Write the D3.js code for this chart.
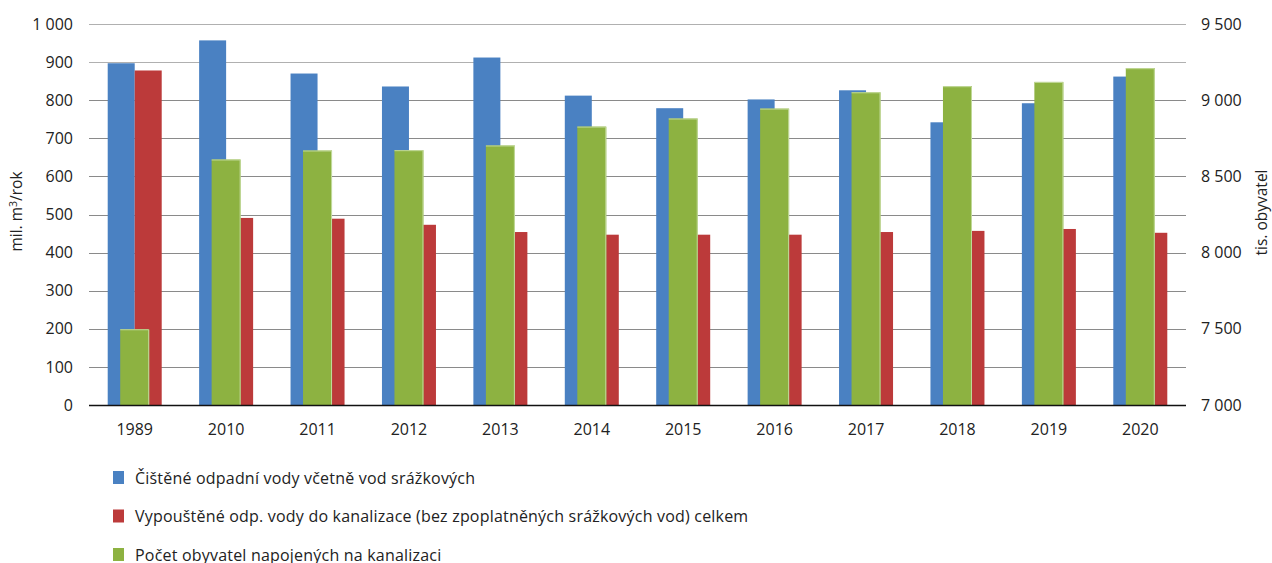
<!DOCTYPE html>
<html>
<head>
<meta charset="utf-8">
<script src="https://cdn.jsdelivr.net/npm/d3@7"></script>
<style>
  body { margin: 0; background: #fff; }
  svg text { font-family: "Open Sans", Lato, sans-serif; fill: #222; }
</style>
</head>
<body>
<svg id="chart"></svg>
<script>
// data
const years = ["1989", "2010", "2011", "2012", "2013", "2014", "2015", "2016", "2017", "2018", "2019", "2020"];
const cisteneVody = [897, 957, 870, 836, 912, 812, 779, 802, 826, 742, 792, 862];
const vypousteneVody = [878, 491, 489, 473, 454, 447, 447, 447, 454, 457, 462, 452];
const obyvatele = [7497, 8611, 8670, 8672, 8703, 8827, 8880, 8945, 9052, 9092, 9120, 9210];
const leftTicks = [0, 100, 200, 300, 400, 500, 600, 700, 800, 900, 1000];
const rightTicks = [7000, 7500, 8000, 8500, 9000, 9500];
const legendLabels = [
  "Čištěné odpadní vody včetně vod srážkových",
  "Vypouštěné odp. vody do kanalizace (bez zpoplatněných srážkových vod) celkem",
  "Počet obyvatel napojených na kanalizaci"
];
const colors = ["#4a81c2", "#bc3a3a", "#8db241"];

const width = 1272, height = 563;
const margin = {left: 89, right: 86, top: 24, bottom: 158};
const innerW = width - margin.left - margin.right;
const innerH = height - margin.top - margin.bottom;
const font = "'Open Sans', sans-serif";

const svg = d3.select("#chart").attr("width", width).attr("height", height);
const g = svg.append("g").attr("transform", `translate(${margin.left},${margin.top})`);

const x = d3.scaleBand().domain(years).range([0, innerW]);
const yL = d3.scaleLinear().domain([0, 1000]).range([innerH, 0]);
const yR = d3.scaleLinear().domain([7000, 9500]).range([innerH, 0]);

const fmt = v => d3.format(",")(v).replace(",", " ");

// gridlines
g.append("g").selectAll("line").data(leftTicks.filter(d => d > 0)).join("line")
  .attr("x1", 0).attr("x2", innerW)
  .attr("y1", d => Math.round(yL(d)) + 0.5).attr("y2", d => Math.round(yL(d)) + 0.5)
  .attr("stroke", d => d >= 900 ? "#b0b0b0" : "#8a8a8a").attr("stroke-width", 1.2);

// left axis labels
const yAxisL = d3.axisLeft(yL).tickValues(leftTicks).tickSize(0).tickPadding(16).tickFormat(fmt);
g.append("g").call(yAxisL).call(a => a.select(".domain").remove())
  .selectAll("text").attr("font-size", 16).style("font-family", font).attr("fill", "#222");

// right axis labels
const yAxisR = d3.axisRight(yR).tickValues(rightTicks).tickSize(0).tickPadding(15).tickFormat(fmt);
g.append("g").attr("transform", `translate(${innerW},0)`).call(yAxisR).call(a => a.select(".domain").remove())
  .selectAll("text").attr("font-size", 16).style("font-family", font).attr("fill", "#222");

// bars
const barW = 27, greenW = 29;
g.append("g").selectAll("rect").data(years).join("rect")
  .attr("x", d => x(d) + x.bandwidth() / 2 - barW)
  .attr("y", (d, i) => yL(cisteneVody[i]))
  .attr("width", barW)
  .attr("height", (d, i) => innerH - yL(cisteneVody[i]))
  .attr("fill", colors[0]);

g.append("g").selectAll("rect").data(years).join("rect")
  .attr("x", d => x(d) + x.bandwidth() / 2)
  .attr("y", (d, i) => yL(vypousteneVody[i]))
  .attr("width", barW)
  .attr("height", (d, i) => innerH - yL(vypousteneVody[i]))
  .attr("fill", colors[1]);

const green = g.append("g").selectAll("g").data(years).join("g");
green.append("rect")
  .attr("x", d => x(d) + x.bandwidth() / 2 - greenW / 2)
  .attr("y", (d, i) => yR(obyvatele[i]))
  .attr("width", greenW)
  .attr("height", (d, i) => innerH - yR(obyvatele[i]))
  .attr("fill", colors[2]);
// light edge on top and right side of the green bars
green.append("path")
  .attr("d", (d, i) => {
    const x0 = x(d) + x.bandwidth() / 2 - greenW / 2, y0 = yR(obyvatele[i]);
    return `M${x0},${y0 + 0.5}H${x0 + greenW - 0.5}V${innerH}`;
  })
  .attr("fill", "none").attr("stroke", "#c3da9c").attr("stroke-width", 1);

// bottom axis line
g.append("line").attr("x1", 0).attr("x2", innerW)
  .attr("y1", innerH + 0.5).attr("y2", innerH + 0.5)
  .attr("stroke", "#111").attr("stroke-width", 1.3);

// x labels
const xAxis = d3.axisBottom(x).tickSize(0).tickPadding(19);
g.append("g").attr("transform", `translate(0,${innerH})`).call(xAxis)
  .call(a => a.select(".domain").remove())
  .selectAll("text").attr("font-size", 16).style("font-family", font).attr("fill", "#222");

// axis titles
svg.append("text")
  .attr("transform", `translate(22,${margin.top + innerH / 2 - 3}) rotate(-90)`)
  .attr("text-anchor", "middle").attr("font-size", 15.5)
  .html('mil. m<tspan dy="-5" font-size="10.5">3</tspan><tspan dy="5">/rok</tspan>');

svg.append("text")
  .attr("transform", `translate(1267,${margin.top + innerH / 2 - 2}) rotate(-90)`)
  .attr("text-anchor", "middle").attr("font-size", 15.5)
  .text("tis. obyvatel");

// legend
const legend = svg.append("g").attr("transform", "translate(113,470)");
const items = legend.selectAll("g").data(legendLabels).join("g")
  .attr("transform", (d, i) => `translate(0,${i * 38.5})`);
items.append("rect").attr("width", 11).attr("height", 13).attr("y", 1)
  .attr("fill", (d, i) => colors[i]);
items.append("text").attr("x", 22).attr("y", 13.5).attr("font-size", 16)
  .attr("letter-spacing", 0.2).text(d => d);
</script>
</body>
</html>
